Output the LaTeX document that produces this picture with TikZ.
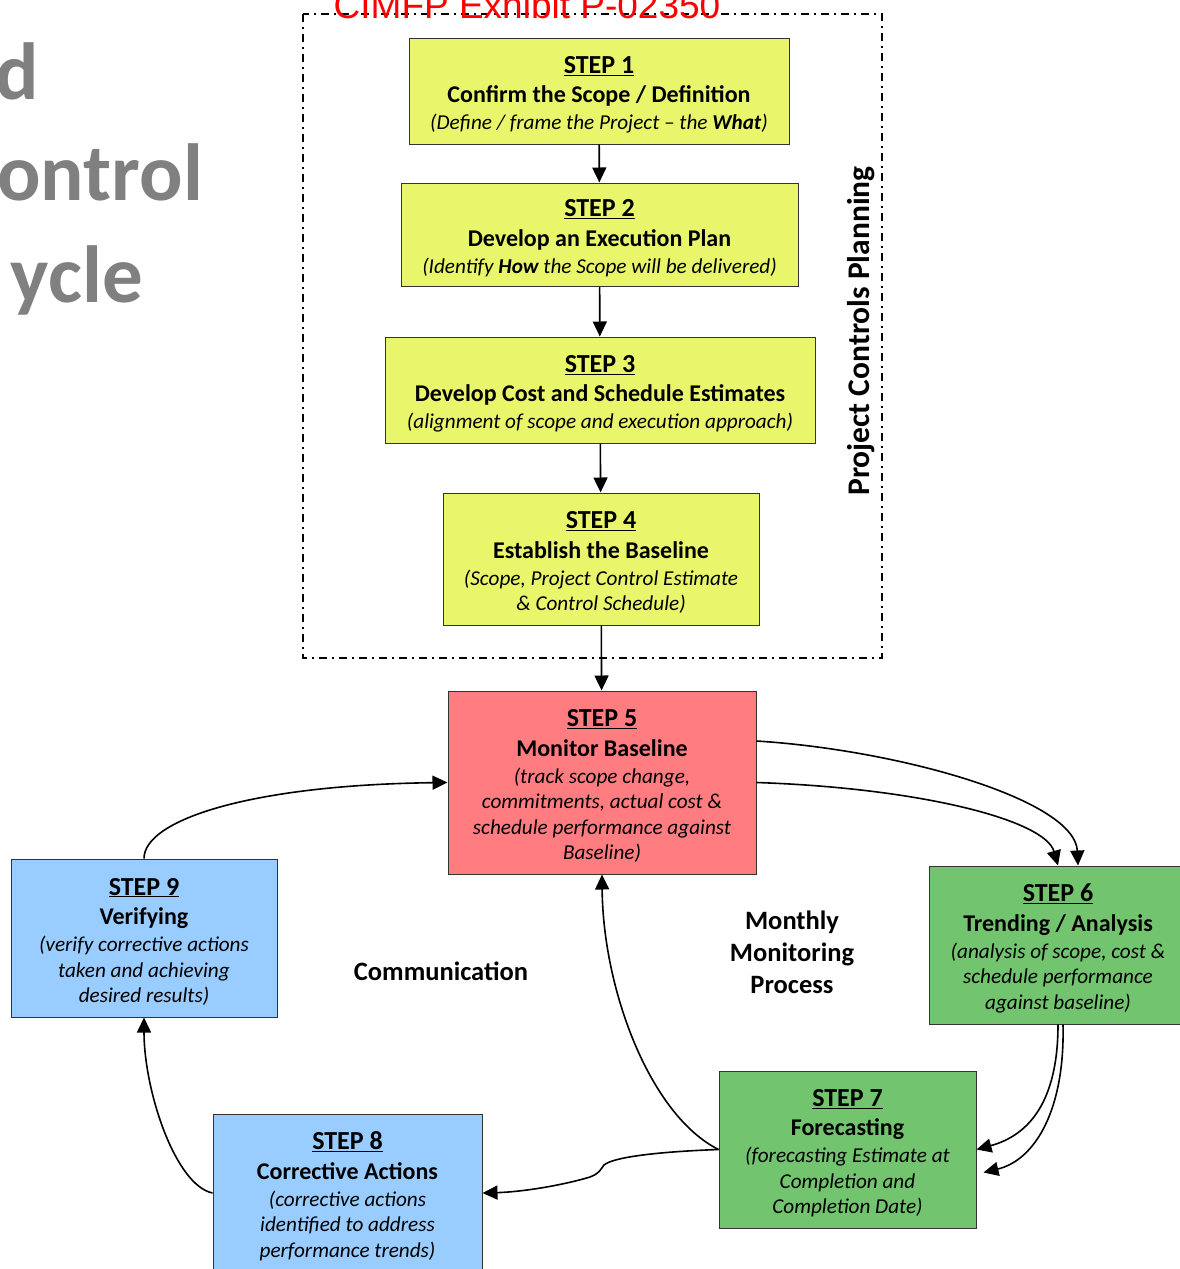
\documentclass[tikz,border=0pt]{standalone}
\usepackage{fontspec}
\setmainfont{Carlito}
\newfontfamily\arialfont{Liberation Sans}
\usepackage{tikz}
\usetikzlibrary{arrows.meta}
\definecolor{stepyellow}{RGB}{233,245,107}
\definecolor{stepred}{RGB}{255,124,128}
\definecolor{stepgreen}{RGB}{114,196,110}
\definecolor{stepblue}{RGB}{153,204,255}
\definecolor{titlegray}{RGB}{128,128,128}
\newcommand{\stephead}[1]{{\fontsize{26}{30}\selectfont\bfseries\upshape\rule{0pt}{24.5pt}\underline{#1}}}
\newcommand{\stepname}[1]{{\fontsize{24}{28}\selectfont\bfseries\upshape #1}}

\begin{document}
\begin{tikzpicture}[x=1pt,y=-1pt,
  stepbox/.style={draw=black!80,line width=1pt,align=center,inner sep=0pt,
    font=\fontsize{21.2}{25.5}\selectfont\itshape},
  flow/.style={line width=1.6pt,-{Triangle[length=15pt,width=14pt]}},
  titletext/.style={inner sep=0pt,anchor=base east,text=titlegray,
    font=\fontsize{81}{84}\selectfont\bfseries},
  looplabel/.style={align=center,inner sep=0pt,font=\fontsize{26.5}{32}\selectfont\bfseries}]
\useasboundingbox (0,0) rectangle (1179,1269);
%
% title, cut at the left edge
\node[titletext] (ttl1) at (39,99) {d};
\node[titletext] (ttl2) at (203,200) {ontrol};
\node[titletext] (ttl3) at (143,302) {ycle};
%
% planning frame
\draw[line width=1.5pt,dash pattern=on 8pt off 5pt on 2pt off 5pt] (303,14) rectangle (882,658);
\node[anchor=base,inner sep=0pt,text=red,font=\arialfont\fontsize{37}{40}\selectfont] (exhibit) at (527,18) {CIMFP Exhibit P-02350};
\node[rotate=90,inner sep=0pt,font=\fontsize{31.5}{33}\selectfont\bfseries] (plan) at (861,331) {Project Controls Planning};
%
% planning steps
\node[stepbox,fill=stepyellow,minimum width=380,minimum height=106] (s1) at (599,91)
  {\stephead{STEP 1}\\[4pt] \stepname{Confirm the Scope / Definition}\\[1.5pt] (Define / frame the Project -- the \textbf{What})};
\node[stepbox,fill=stepyellow,minimum width=397,minimum height=103] (s2) at (599.5,234.5)
  {\stephead{STEP 2}\\[4pt] \stepname{Develop an Execution Plan}\\[1.5pt] (Identify \textbf{How} the Scope will be delivered)};
\node[stepbox,fill=stepyellow,minimum width=430,minimum height=106] (s3) at (600,390)
  {\stephead{STEP 3}\\[4pt] \stepname{Develop Cost and Schedule Estimates}\\[1.5pt] (alignment of scope and execution approach)};
\node[stepbox,fill=stepyellow,minimum width=316,minimum height=132] (s4) at (601,559)
  {\stephead{STEP 4}\\[4pt] \stepname{Establish the Baseline}\\[1.5pt] (Scope, Project Control Estimate\\ \& Control Schedule)};
%
% monitoring loop
\node[stepbox,fill=stepred,minimum width=308,minimum height=183] (s5) at (602,782.5)
  {\stephead{STEP 5}\\[4pt] \stepname{Monitor Baseline}\\[1.5pt] (track scope change,\\ commitments, actual cost \&\\ schedule performance against\\ Baseline)};
\node[stepbox,fill=stepgreen,minimum width=258,minimum height=158] (s6) at (1058,945)
  {\stephead{STEP 6}\\[4pt] \stepname{Trending / Analysis}\\[1.5pt] (analysis of scope, cost \&\\ schedule performance\\ against baseline)};
\node[stepbox,fill=stepgreen,minimum width=257,minimum height=157] (s7) at (847.5,1149.5)
  {\stephead{STEP 7}\\[4pt] \stepname{Forecasting}\\[1.5pt] (forecasting Estimate at\\ Completion and\\ Completion Date)};
\node[stepbox,fill=stepblue,minimum width=269,minimum height=158] (s8) at (347.5,1193)
  {\stephead{STEP 8}\\[4pt] \stepname{Corrective Actions}\\[1.5pt] (corrective actions\\ identified to address\\ performance trends)};
\node[stepbox,fill=stepblue,minimum width=266,minimum height=158] (s9) at (144,938)
  {\stephead{STEP 9}\\[4pt] \stepname{Verifying}\\[1.5pt] (verify corrective actions\\ taken and achieving\\ desired results)};
%
\node[looplabel] (comm) at (441,971) {Communication};
\node[looplabel] (month) at (792,952) {Monthly\\ Monitoring\\ Process};
%
% connectors
\draw[flow] (s1) -- (s2);
\draw[flow] (s2) -- (s3);
\draw[flow] (s3) -- (s4);
\draw[flow] (s4) -- (s5);
%
\draw[flow] ([shift={(0,-41.5)}]s5.east) .. controls (900,750) and (1075,800) .. ([shift={(20,0)}]s6.north);
\draw[flow] (s5.east) .. controls (920,788) and (1045,820) .. (s6.north);
%
\draw[flow] (s6.south) .. controls (1058,1100) and (1030,1135) .. (s7.east);
\draw[flow] ([shift={(5,0)}]s6.south) .. controls (1065,1110) and (1035,1160) .. ([shift={(7,23)}]s7.east);
%
\draw[flow] (s7.west) .. controls (650,1115) and (603,990) .. (s5.south);
\draw[flow] (s7.west) .. controls (650,1152) and (612,1158) .. (604,1165)
  .. controls (600,1170) and (600,1173) .. (590,1177)
  .. controls (560,1186) and (520,1192) .. (s8.east);
%
\draw[flow] (s8.west) .. controls (175,1185) and (144,1090) .. (s9.south);
\draw[flow] (s9.north) .. controls (144,820) and (250,785) .. (s5.west);
\end{tikzpicture}
\end{document}
